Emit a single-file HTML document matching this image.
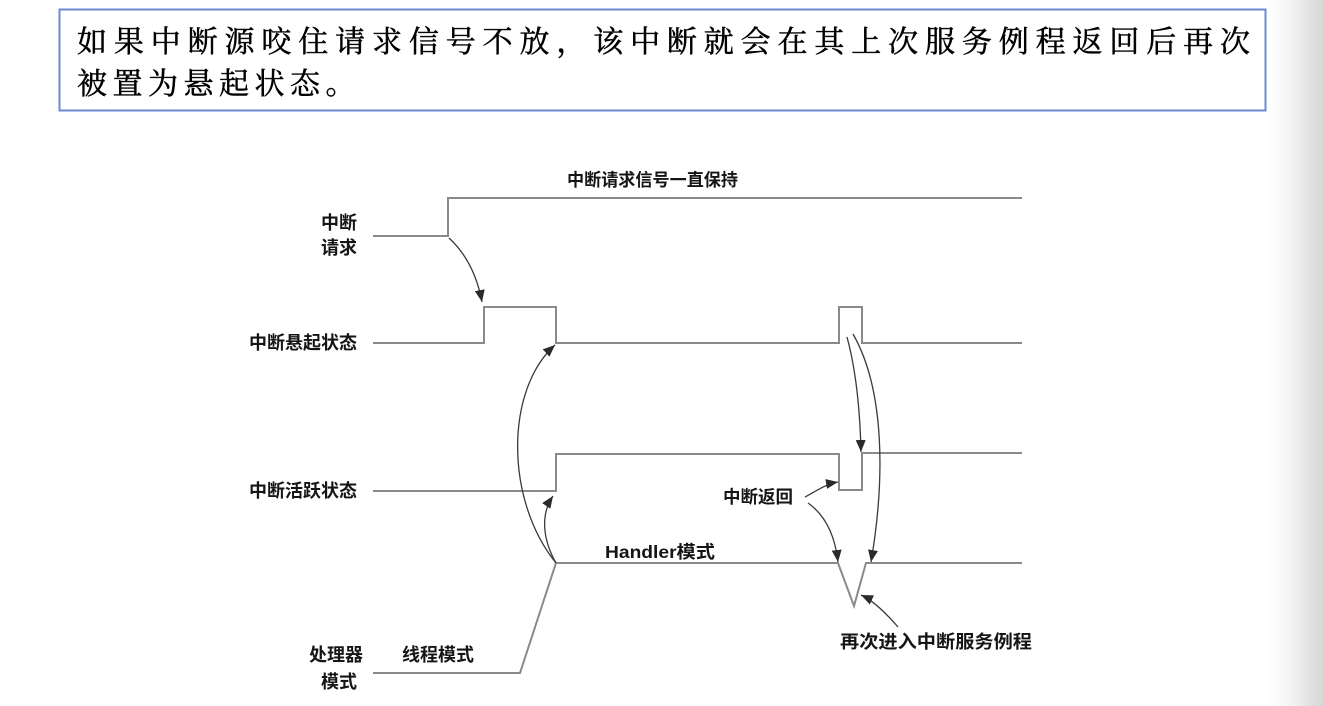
<!DOCTYPE html>
<html><head><meta charset="utf-8"><style>
html,body{margin:0;padding:0;background:#fff;}
svg{display:block;}
.lbl{font-family:"Liberation Sans","Noto Sans CJK SC",sans-serif;font-weight:700;font-size:18px;fill:#151515;}
.ttl{font-family:'Liberation Serif','Noto Serif CJK SC',serif;font-size:30px;fill:#000;stroke:#000;stroke-width:0.5px;}
</style></head><body>
<svg width="1324" height="706" viewBox="0 0 1324 706" xmlns="http://www.w3.org/2000/svg">
<defs>
<linearGradient id="edge" x1="0" x2="1" y1="0" y2="0">
<stop offset="0" stop-color="#ffffff"/>
<stop offset="0.4" stop-color="#f3f3f3"/>
<stop offset="1" stop-color="#d6d6d6"/>
</linearGradient>
<marker id="ah" markerUnits="userSpaceOnUse" markerWidth="13" markerHeight="11" refX="12" refY="5" orient="auto">
<path d="M0,0 L12,5 L0,10 z" fill="#2a2a2a"/>
</marker>
</defs>
<rect x="0" y="0" width="1324" height="706" fill="#fff"/>
<rect x="1268" y="0" width="56" height="706" fill="url(#edge)"/>

<!-- top text box -->
<rect x="59.5" y="9.5" width="1206" height="101" fill="#fff" stroke="#6a8bd0" stroke-width="2"/>
<text class="ttl" x="77" y="52" textLength="1173" lengthAdjust="spacing">如果中断源咬住请求信号不放，该中断就会在其上次服务例程返回后再次</text>
<text class="ttl" x="77" y="94" style="letter-spacing:5.5px;">被置为悬起状态。</text>

<!-- signal lines -->
<g fill="none" stroke="#8a8a8a" stroke-width="2">
<polyline points="373,236 448,236 448,198 1022,198"/>
<polyline points="373,343 484,343 484,307 556,307 556,343 839,343 839,307 862,307 862,343 1022,343"/>
<polyline points="373,491 556,491 556,454 839,454 839,490 862,490 862,453 1022,453"/>
<polyline points="373,673 520,673 556,563 838,563 854,606 866,563 1022,563"/>
</g>

<!-- arrows -->
<g fill="none" stroke="#3a3a3a" stroke-width="1.3" marker-end="url(#ah)">
<path d="M449,238 C462,250 476,270 482,302"/>
<path d="M556,563 C505,500 505,390 555,345"/>
<path d="M556,563 C543,540 540,515 553,496"/>
<path d="M847,337 C856,370 860,410 861,452"/>
<path d="M853,334 C885,390 885,480 871,562"/>
<path d="M805,497 C818,490 826,484 838,482"/>
<path d="M808,503 C825,515 835,535 838,562"/>
<path d="M898,627 C885,612 872,600 861,595"/>
</g>

<!-- labels -->
<text class="lbl" x="357" y="229" text-anchor="end">中断</text>
<text class="lbl" x="357" y="254" text-anchor="end">请求</text>
<text class="lbl" x="357" y="349" text-anchor="end">中断悬起状态</text>
<text class="lbl" x="357" y="497" text-anchor="end">中断活跃状态</text>
<text class="lbl" x="363" y="661" text-anchor="end">处理器</text>
<text class="lbl" x="357" y="688" text-anchor="end">模式</text>
<text class="lbl" x="402" y="661">线程模式</text>
<text class="lbl" x="567" y="186" textLength="171" lengthAdjust="spacingAndGlyphs" style="font-size:17.5px">中断请求信号一直保持</text>
<text class="lbl" x="605" y="558" textLength="110" lengthAdjust="spacingAndGlyphs" style="font-size:17.5px">Handler模式</text>
<text class="lbl" x="723" y="503" style="font-size:17.5px">中断返回</text>
<text class="lbl" x="840" y="648" textLength="192" lengthAdjust="spacingAndGlyphs">再次进入中断服务例程</text>
</svg>
</body></html>
